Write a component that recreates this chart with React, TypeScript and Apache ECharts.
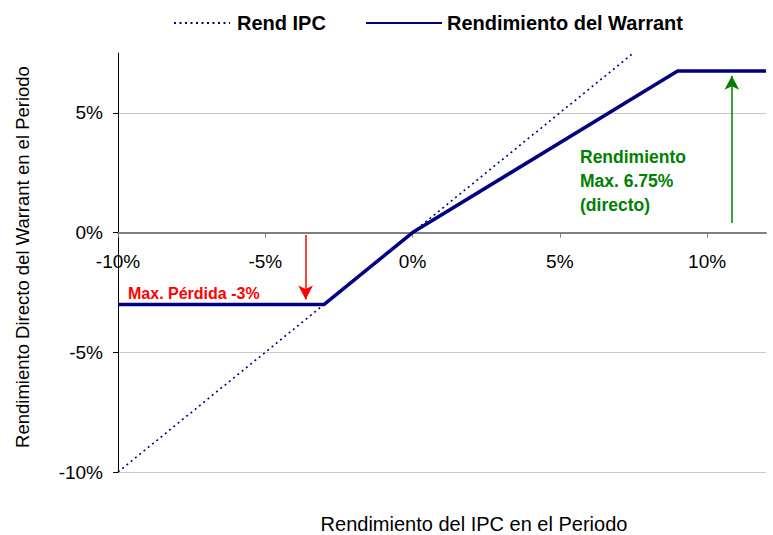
import React, { useEffect, useRef } from "react";
import * as echarts from "echarts";

// Data (percent units)
const ipcX = [-10, 7.5];
const ipcY = [-10, 7.5];
const warrantX = [-10, -3, 0, 9, 12];
const warrantY = [-3, -3, 0, 6.75, 6.75];
const xTicks = { min: -10, max: 12, interval: 5 };
const yTicks = { min: -10, max: 7.5, interval: 5 };
const lossArrow = { x: -3.63, from: -0.1, to: -2.8 };
const gainArrow = { x: 10.84, from: 0.4, to: 6.55 };

const seriesNames = ["Rend IPC", "Rendimiento del Warrant"];
const titles = {
  x: "Rendimiento del IPC en el Periodo",
  y: "Rendimiento Directo del Warrant en el Periodo",
};

const FONT = "Liberation Sans, Arial, sans-serif";

export default function App() {
  const ref = useRef<HTMLDivElement>(null);
  useEffect(() => {
    if (!ref.current) return;
    const chart = echarts.init(ref.current, null, { renderer: "svg" });
    const navy = "#000080";
    const gridTop = 53;
    const gridBottom = 63;
    const plotH = 535 - gridTop - gridBottom;
    const zeroOffset = (plotH * (0 - yTicks.min)) / (yTicks.max - yTicks.min);
    const legendText = { fontFamily: FONT, fontSize: 20, fontWeight: "bold", color: "#000" };
    chart.setOption({
      animation: false,
      backgroundColor: "#ffffff",
      textStyle: { fontFamily: FONT },
      grid: { left: 118, right: 7, top: gridTop, bottom: gridBottom },
      legend: [
        {
          data: [seriesNames[0]],
          left: 168,
          top: 8,
          itemWidth: 56,
          itemHeight: 14,
          itemGap: 0,
          itemStyle: { opacity: 0 },
          textStyle: { ...legendText, padding: [0, 0, 0, 2] },
        },
        {
          data: [seriesNames[1]],
          left: 360,
          top: 8,
          itemWidth: 76,
          itemHeight: 14,
          itemGap: 0,
          itemStyle: { opacity: 0 },
          textStyle: { ...legendText, padding: [0, 0, 0, 0] },
        },
      ],
      xAxis: {
        type: "value",
        min: xTicks.min,
        max: xTicks.max,
        interval: xTicks.interval,
        offset: -zeroOffset,
        axisLine: { show: true, onZero: false, lineStyle: { color: "#808080", width: 2 } },
        axisTick: { show: true, length: 5, lineStyle: { color: "#808080" } },
        axisLabel: {
          color: "#000",
          fontSize: 19,
          fontFamily: FONT,
          margin: 19,
          showMaxLabel: false,
          formatter: (v: number) => `${v}%`,
        },
        splitLine: { show: false },
      },
      yAxis: {
        type: "value",
        min: yTicks.min,
        max: yTicks.max,
        interval: yTicks.interval,
        axisLine: { show: true, onZero: false, lineStyle: { color: "#000", width: 1 } },
        axisTick: { show: true, length: 5, lineStyle: { color: "#000" } },
        axisLabel: {
          color: "#000",
          fontSize: 19,
          fontFamily: FONT,
          margin: 15,
          showMaxLabel: false,
          formatter: (v: number) => `${v}%`,
        },
        splitLine: { show: true, showMaxLine: false, lineStyle: { color: "#c8c8c8", width: 1 } },
      },
      series: [
        {
          name: seriesNames[0],
          type: "line",
          data: ipcX.map((x, i) => [x, ipcY[i]]),
          symbol: "none",
          showSymbol: false,
          lineStyle: { color: navy, width: 1.6, type: [2, 3.5] },
          itemStyle: { color: navy },
          z: 2,
        },
        {
          name: seriesNames[1],
          type: "line",
          data: warrantX.map((x, i) => [x, warrantY[i]]),
          symbol: "none",
          showSymbol: false,
          lineStyle: { color: navy, width: 3.5 },
          itemStyle: { color: navy },
          z: 3,
          markLine: {
            silent: true,
            symbol: ["none", "arrow"],
            symbolSize: [11, 14],
            label: { show: false },
            data: [
              [
                { coord: [lossArrow.x, lossArrow.from], lineStyle: { color: "#ff0000", width: 1.5, type: "solid" } },
                { coord: [lossArrow.x, lossArrow.to] },
              ],
              [
                { coord: [gainArrow.x, gainArrow.from], lineStyle: { color: "#008000", width: 1.5, type: "solid" } },
                { coord: [gainArrow.x, gainArrow.to] },
              ],
            ],
          },
        },
      ],
      graphic: [
        {
          type: "text",
          x: 474,
          y: 524,
          style: {
            text: titles.x,
            fontFamily: FONT,
            fontSize: 20,
            fill: "#000",
            textAlign: "center",
            textVerticalAlign: "middle",
          },
        },
        {
          type: "text",
          x: 22,
          y: 257,
          rotation: Math.PI / 2,
          style: {
            text: titles.y,
            fontFamily: FONT,
            fontSize: 18.5,
            fill: "#000",
            textAlign: "center",
            textVerticalAlign: "middle",
          },
        },
        {
          type: "text",
          x: 128,
          y: 293,
          style: {
            text: "Max. Pérdida -3%",
            fontFamily: FONT,
            fontSize: 16,
            fontWeight: "bold",
            fill: "#ff0000",
            textAlign: "left",
            textVerticalAlign: "middle",
          },
        },
        {
          type: "text",
          x: 580,
          y: 181,
          style: {
            text: "Rendimiento\nMax. 6.75%\n(directo)",
            fontFamily: FONT,
            fontSize: 17.5,
            lineHeight: 24,
            fontWeight: "bold",
            fill: "#008000",
            textAlign: "left",
            textVerticalAlign: "middle",
          },
        },
      ],
    });
    return () => chart.dispose();
  }, []);
  return (
    <div
      ref={ref}
      style={{ position: "fixed", left: 0, top: 0, width: 773, height: 535 }}
    />
  );
}
